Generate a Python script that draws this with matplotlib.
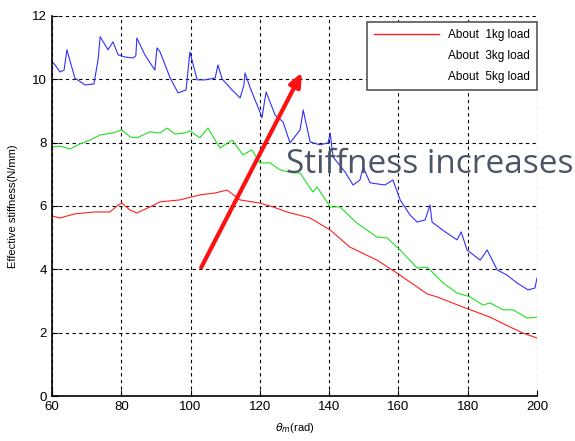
import numpy as np
import matplotlib
matplotlib.use("Agg")
import matplotlib.pyplot as plt
from matplotlib.lines import Line2D

plt.rcParams['font.family'] = ['Liberation Sans', 'DejaVu Sans']

# about 5kg load (blue)
x5 = [60, 60.9, 62.3, 63.5, 64.3, 66.6, 69.5, 72.1, 73.3, 73.9, 76.2, 77.6, 79.1, 81.1, 83.4,
      84.2, 84.5, 86.8, 89.7, 90.3, 91.2, 94.1, 96.4, 98.7, 99.8, 101.9, 104.2, 107.1, 107.9,
      109.1, 112.0, 114.3, 115.4, 115.7, 117.2, 120.0, 120.6, 121.8, 124.4, 126.7, 128.7,
      131.6, 132.5, 134.5, 137.4, 139.7, 140.3, 141.1, 144.6, 146.9, 148.9, 149.8, 151.8,
      156.1, 158.4, 160.5, 163.3, 165.4, 167.7, 169.1, 169.7, 173.5, 176.9, 178.1, 179.8,
      183.6, 185.6, 188.5, 191.3, 194.2, 197.4, 199.4, 200.0]
y5 = [10.55, 10.45, 10.23, 10.29, 10.93, 10.04, 9.82, 9.85, 10.61, 11.34, 10.93, 11.18, 10.77,
      10.70, 10.67, 10.74, 11.30, 10.77, 10.29, 10.99, 10.86, 10.04, 9.57, 9.66, 10.86, 9.98,
      9.98, 10.04, 10.45, 10.01, 9.66, 9.41, 9.82, 10.20, 9.73, 8.97, 8.78, 9.60, 8.87, 8.65,
      7.99, 8.40, 9.03, 8.02, 7.93, 7.99, 8.30, 7.55, 7.07, 6.66, 6.82, 7.23, 6.73, 6.66, 6.82,
      6.19, 5.72, 5.49, 5.56, 6.03, 5.49, 5.18, 4.93, 5.18, 4.61, 4.29, 4.61, 3.98, 3.82, 3.57,
      3.35, 3.41, 3.73]

# about 3kg load (green)
x3 = [60, 62.3, 65.2, 68.1, 71.0, 73.9, 77.3, 80.2, 82.5, 84.5, 88.3, 91.2, 93.2, 95.5, 98.4,
      99.8, 102.7, 105.0, 107.1, 108.5, 112.0, 115.1, 117.7, 120.0, 122.9, 125.8, 129.6, 131.6,
      135.3, 136.5, 140.3, 143.1, 148.0, 153.8, 156.7, 160.5, 165.4, 168.3, 172.9, 176.9,
      180.7, 184.4, 186.4, 190.2, 193.1, 197.1, 200.0]
y3 = [7.86, 7.89, 7.80, 7.96, 8.08, 8.24, 8.30, 8.40, 8.18, 8.15, 8.34, 8.30, 8.46, 8.27, 8.30,
      8.37, 8.15, 8.46, 8.08, 7.83, 8.08, 7.61, 7.77, 7.36, 7.36, 7.14, 7.04, 7.04, 6.44, 6.60,
      5.97, 5.97, 5.46, 5.02, 4.99, 4.61, 4.04, 4.07, 3.57, 3.25, 3.13, 2.87, 2.94, 2.72, 2.72,
      2.46, 2.49]

# about 1kg load (red)
x1 = [60, 62.3, 66.6, 72.4, 76.7, 79.1, 80.2, 82.5, 84.5, 88.3, 91.2, 96.9, 102.7, 107.1, 110.5,
      112.8, 114.3, 120.0, 123.8, 127.8, 134.5, 140.3, 146.0, 153.8, 159.6, 163.3, 168.3,
      171.1, 178.6, 186.4, 192.2, 195.9, 200.0]
y1 = [5.68, 5.62, 5.75, 5.81, 5.81, 6.03, 6.09, 5.87, 5.78, 5.97, 6.13, 6.19, 6.35, 6.41, 6.50,
      6.32, 6.19, 6.09, 5.97, 5.81, 5.62, 5.24, 4.70, 4.29, 3.88, 3.60, 3.22, 3.13, 2.81, 2.49,
      2.18, 1.99, 1.83]

labels = ['About  1kg load', 'About  3kg load', 'About  5kg load']

fig = plt.figure(figsize=(5.75, 4.41), dpi=100)
ax = fig.add_axes([0.0904, 0.102, 0.8436, 0.862])

ax.plot(x5, y5, color='#3030ff', lw=0.8)
ax.plot(x3, y3, color='#20e020', lw=0.8)
ax.plot(x1, y1, color='#ff2020', lw=0.8)

ax.set_xlim(60, 200)
ax.set_ylim(0, 12)
ax.set_xticks(range(60, 201, 20))
ax.set_yticks(range(0, 13, 2))
ax.grid(True, color='black', linestyle=(0, (3, 3)), lw=0.8)
ax.spines['top'].set_visible(False)
ax.spines['right'].set_visible(False)
ax.spines['left'].set_linewidth(1.2)
ax.spines['bottom'].set_linewidth(1.2)
ax.tick_params(direction='in', labelsize=9.5, length=4)

ax.set_xlabel(r'$\theta_m$(rad)', fontsize=8, labelpad=6)
ax.set_ylabel('Effective stiffness(N/mm)', fontsize=8, labelpad=10)

handles = [Line2D([], [], color='#ff2020', lw=1),
           Line2D([], [], color='none'),
           Line2D([], [], color='none')]
leg = ax.legend(handles, labels, loc='upper right', bbox_to_anchor=(1.0, 0.984),
                borderaxespad=0, fontsize=8.5, fancybox=False, framealpha=1,
                edgecolor='#555555', handlelength=5.5, borderpad=0.6, labelspacing=0.75)
leg.get_frame().set_linewidth(1.2)

# arrow showing the trend
ax.annotate('', xy=(132.5, 10.29), xytext=(102.7, 3.98),
            arrowprops=dict(arrowstyle='-|>,head_length=0.8,head_width=0.35',
                            color='#ff1010', lw=3))
ax.text(127.6, 7.3, 'Stiffness increases', fontsize=24, color='#4a5568',
        family=['Open Sans', 'DejaVu Sans'], va='center', ha='left', clip_on=False)

fig.savefig('out.png', dpi=100)
